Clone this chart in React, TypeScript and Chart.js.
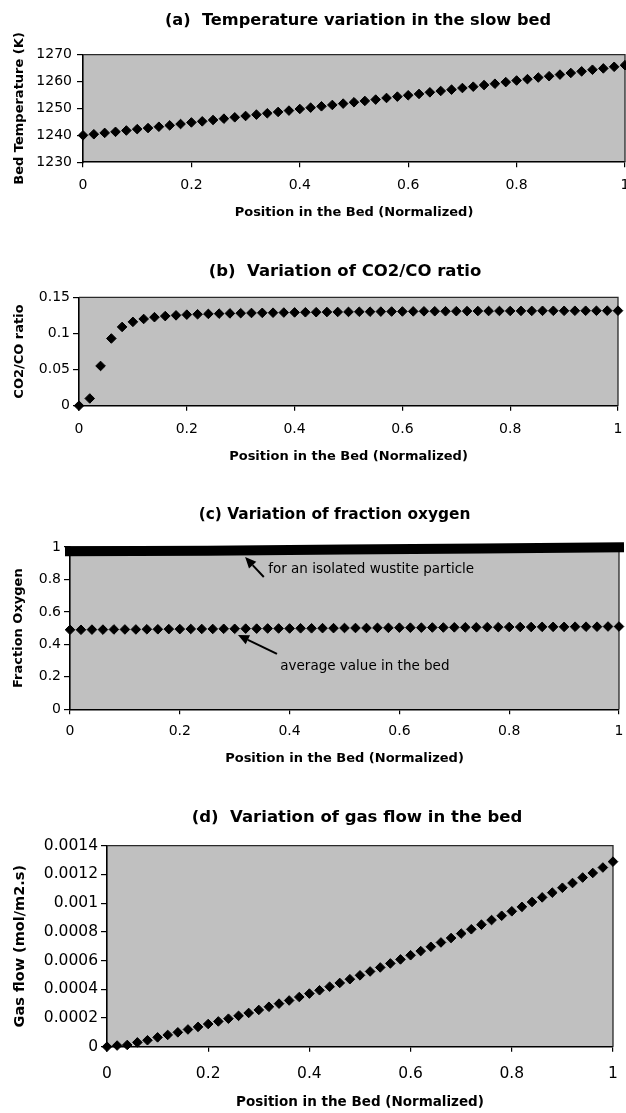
import React, { useEffect, useRef } from "react";
import { Chart, registerables } from "chart.js";

Chart.register(...registerables);

// ---------------- data ----------------
const POSITIONS = [
  0, 0.02, 0.04, 0.06, 0.08, 0.1, 0.12, 0.14, 0.16, 0.18,
  0.2, 0.22, 0.24, 0.26, 0.28, 0.3, 0.32, 0.34, 0.36, 0.38,
  0.4, 0.42, 0.44, 0.46, 0.48, 0.5, 0.52, 0.54, 0.56, 0.58,
  0.6, 0.62, 0.64, 0.66, 0.68, 0.7, 0.72, 0.74, 0.76, 0.78,
  0.8, 0.82, 0.84, 0.86, 0.88, 0.9, 0.92, 0.94, 0.96, 0.98, 1,
];

const BED_TEMPERATURE = [
  1240.0, 1240.4, 1240.9, 1241.3, 1241.8, 1242.3, 1242.7, 1243.2, 1243.7, 1244.2,
  1244.8, 1245.2, 1245.7, 1246.2, 1246.7, 1247.2, 1247.7, 1248.2, 1248.7, 1249.2,
  1249.8, 1250.3, 1250.8, 1251.3, 1251.8, 1252.3, 1252.8, 1253.3, 1253.9, 1254.4,
  1254.9, 1255.4, 1256.0, 1256.5, 1257.0, 1257.6, 1258.1, 1258.7, 1259.2, 1259.8,
  1260.4, 1260.9, 1261.5, 1262.0, 1262.6, 1263.2, 1263.8, 1264.4, 1264.9, 1265.5, 1266.1,
];

const CO2_CO_RATIO = [
  0, 0.01, 0.055, 0.093, 0.109, 0.116, 0.12, 0.1225, 0.124, 0.125,
  0.126, 0.1265, 0.127, 0.1274, 0.1277, 0.128, 0.1283, 0.1285, 0.1287, 0.1289,
  0.1291, 0.1293, 0.1294, 0.1296, 0.1297, 0.1298, 0.13, 0.1301, 0.1302, 0.1303,
  0.1304, 0.1305, 0.1306, 0.1307, 0.1307, 0.1308, 0.1309, 0.131, 0.131, 0.1311,
  0.1311, 0.1312, 0.1312, 0.1313, 0.1313, 0.1313, 0.1314, 0.1314, 0.1314, 0.1315, 0.1315,
];

const OXYGEN_BED_AVERAGE = [
  0.49, 0.49, 0.491, 0.491, 0.492, 0.492, 0.492, 0.493, 0.493, 0.494,
  0.494, 0.495, 0.495, 0.495, 0.496, 0.496, 0.497, 0.497, 0.498, 0.498,
  0.498, 0.499, 0.499, 0.5, 0.5, 0.501, 0.501, 0.501, 0.502, 0.502,
  0.503, 0.503, 0.503, 0.504, 0.504, 0.505, 0.505, 0.505, 0.506, 0.506,
  0.507, 0.507, 0.507, 0.508, 0.508, 0.508, 0.509, 0.509, 0.509, 0.51, 0.51,
];

const OXYGEN_PARTICLE_POSITIONS = [0, 0.25, 0.5, 0.75, 1];
const OXYGEN_ISOLATED_PARTICLE = [0.974, 0.977, 0.984, 0.991, 0.998];

const GAS_FLOW = [
  0, 0.000008, 0.000012, 0.00003, 0.000045, 0.000065, 0.000082, 0.0001, 0.00012, 0.000138,
  0.000158, 0.000176, 0.000195, 0.000215, 0.000235, 0.000256, 0.000278, 0.0003, 0.000322, 0.000346,
  0.00037, 0.000393, 0.000418, 0.000444, 0.00047, 0.000497, 0.000524, 0.000552, 0.00058, 0.000608,
  0.000637, 0.000666, 0.000696, 0.000726, 0.000757, 0.000788, 0.000818, 0.00085, 0.000882, 0.000912,
  0.000943, 0.000974, 0.001008, 0.00104, 0.001073, 0.001107, 0.00114, 0.001178, 0.00121, 0.001248, 0.001289,
];

const X_TICKS = [0, 0.2, 0.4, 0.6, 0.8, 1];
const X_TICK_LABELS = ["0", "0.2", "0.4", "0.6", "0.8", "1"];

const TEMP_TICKS = [1230, 1240, 1250, 1260, 1270];
const TEMP_TICK_LABELS = ["1230", "1240", "1250", "1260", "1270"];

const RATIO_TICKS = [0, 0.05, 0.1, 0.15];
const RATIO_TICK_LABELS = ["0", "0.05", "0.1", "0.15"];

const OXYGEN_TICKS = [0, 0.2, 0.4, 0.6, 0.8, 1];
const OXYGEN_TICK_LABELS = ["0", "0.2", "0.4", "0.6", "0.8", "1"];

const FLOW_TICKS = [0, 0.0002, 0.0004, 0.0006, 0.0008, 0.001, 0.0012, 0.0014];
const FLOW_TICK_LABELS = ["0", "0.0002", "0.0004", "0.0006", "0.0008", "0.001", "0.0012", "0.0014"];

const X_TITLE = "Position in the Bed (Normalized)";

// ---------------- styling / layout ----------------
const FONT = "'DejaVu Sans', sans-serif";
const PAGE_W = 626;
const X_TICK_LEN = 5;
const Y_TICK_LEN = 6;

type Series = { x: number[]; y: number[]; line?: boolean };
type Note = { text: string; tx: number; ty: number; fromX: number; fromY: number; toX: number; toY: number };

interface PanelSpec {
  top: number;
  height: number;
  title: string;
  titleX: number;
  titleY: number;
  titleSize: number;
  plotLeft: number;
  plotRight: number;
  plotTop: number;
  plotBottom: number;
  xLabelY: number;
  xTitleY: number;
  xTitleSize: number;
  yTitle: string;
  yTitleX: number;
  yTitleSize: number;
  yPad: number;
  yMin: number;
  yMax: number;
  yTicks: number[];
  yTickLabels: string[];
  tickSize: number;
  series: Series[];
  notes?: Note[];
}

const PANELS: PanelSpec[] = [
  {
    top: 0, height: 240, title: "(a)  Temperature variation in the slow bed", titleX: 358, titleY: 20.5, titleSize: 16.2,
    plotLeft: 83, plotRight: 625, plotTop: 54.7, plotBottom: 162.2,
    xLabelY: 185, xTitleY: 213, xTitleSize: 13, yTitle: "Bed Temperature (K)", yTitleX: 19.5, yTitleSize: 13, yPad: 5,
    yMin: 1230, yMax: 1270, yTicks: TEMP_TICKS, yTickLabels: TEMP_TICK_LABELS, tickSize: 14,
    series: [{ x: POSITIONS, y: BED_TEMPERATURE }],
  },
  {
    top: 240, height: 250, title: "(b)  Variation of CO2/CO ratio", titleX: 345, titleY: 31.3, titleSize: 16.5,
    plotLeft: 79, plotRight: 618, plotTop: 57.3, plotBottom: 165.7,
    xLabelY: 189, xTitleY: 216.7, xTitleSize: 13, yTitle: "CO2/CO ratio", yTitleX: 19.3, yTitleSize: 13, yPad: 3,
    yMin: 0, yMax: 0.15, yTicks: RATIO_TICKS, yTickLabels: RATIO_TICK_LABELS, tickSize: 14,
    series: [{ x: POSITIONS, y: CO2_CO_RATIO }],
  },
  {
    top: 490, height: 300, title: "(c) Variation of fraction oxygen", titleX: 334.5, titleY: 24.5, titleSize: 15.4,
    plotLeft: 70, plotRight: 619, plotTop: 57, plotBottom: 219.3,
    xLabelY: 241.7, xTitleY: 269, xTitleSize: 13, yTitle: "Fraction Oxygen", yTitleX: 19, yTitleSize: 13, yPad: 3,
    yMin: 0, yMax: 1, yTicks: OXYGEN_TICKS, yTickLabels: OXYGEN_TICK_LABELS, tickSize: 14,
    series: [
      { x: OXYGEN_PARTICLE_POSITIONS, y: OXYGEN_ISOLATED_PARTICLE, line: true },
      { x: POSITIONS, y: OXYGEN_BED_AVERAGE },
    ],
    notes: [
      { text: "for an isolated wustite particle", tx: 0.361, ty: 0.864, fromX: 0.353, fromY: 0.815, toX: 0.319, toY: 0.938 },
      { text: "average value in the bed", tx: 0.383, ty: 0.261, fromX: 0.377, fromY: 0.341, toX: 0.306, toY: 0.458 },
    ],
  },
  {
    top: 790, height: 323, title: "(d)  Variation of gas flow in the bed", titleX: 357, titleY: 28, titleSize: 16.5,
    plotLeft: 107, plotRight: 613, plotTop: 55.7, plotBottom: 256.7,
    xLabelY: 284, xTitleY: 312, xTitleSize: 13.5, yTitle: "Gas flow (mol/m2.s)", yTitleX: 20.7, yTitleSize: 14.5, yPad: 3,
    yMin: 0, yMax: 0.0014, yTicks: FLOW_TICKS, yTickLabels: FLOW_TICK_LABELS, tickSize: 15.5,
    series: [{ x: POSITIONS, y: GAS_FLOW }],
  },
];

const plotFrame = {
  id: "plotFrame",
  beforeDraw(chart: any) {
    const { ctx, chartArea: a } = chart;
    ctx.save();
    ctx.fillStyle = "#c0c0c0";
    ctx.fillRect(a.left, a.top, a.right - a.left, a.bottom - a.top);
    ctx.restore();
  },
  beforeDatasetsDraw(chart: any) {
    const { ctx, chartArea: a } = chart;
    ctx.save();
    ctx.strokeStyle = "#2a2a2a";
    ctx.lineWidth = 1.3;
    ctx.beginPath();
    ctx.moveTo(a.left, a.top);
    ctx.lineTo(a.right, a.top);
    ctx.lineTo(a.right, a.bottom);
    ctx.stroke();
    ctx.restore();
  },
};

function makeTitlePlugin(s: PanelSpec) {
  return {
    id: "panelTitle",
    afterDraw(chart: any) {
      const { ctx } = chart;
      ctx.save();
      ctx.fillStyle = "#000";
      ctx.font = `bold ${s.titleSize}px ${FONT}`;
      ctx.textAlign = "center";
      ctx.textBaseline = "middle";
      ctx.fillText(s.title, s.titleX, s.titleY);
      ctx.restore();
    },
  };
}

function makeNotesPlugin(notes: Note[]) {
  return {
    id: "notes",
    afterDatasetsDraw(chart: any) {
      const { ctx } = chart;
      const xs = chart.scales.x;
      const ys = chart.scales.y;
      ctx.save();
      ctx.fillStyle = "#000";
      ctx.strokeStyle = "#000";
      ctx.font = `13.5px ${FONT}`;
      ctx.textAlign = "left";
      ctx.textBaseline = "middle";
      for (const n of notes) {
        ctx.fillText(n.text, xs.getPixelForValue(n.tx), ys.getPixelForValue(n.ty));
        const x1 = xs.getPixelForValue(n.fromX);
        const y1 = ys.getPixelForValue(n.fromY);
        const x2 = xs.getPixelForValue(n.toX);
        const y2 = ys.getPixelForValue(n.toY);
        const ang = Math.atan2(y2 - y1, x2 - x1);
        const headLen = 11;
        const headHalf = 5;
        const bx = x2 - headLen * Math.cos(ang);
        const by = y2 - headLen * Math.sin(ang);
        ctx.lineWidth = 2;
        ctx.beginPath();
        ctx.moveTo(x1, y1);
        ctx.lineTo(bx, by);
        ctx.stroke();
        ctx.beginPath();
        ctx.moveTo(x2, y2);
        ctx.lineTo(bx + headHalf * Math.sin(ang), by - headHalf * Math.cos(ang));
        ctx.lineTo(bx - headHalf * Math.sin(ang), by + headHalf * Math.cos(ang));
        ctx.closePath();
        ctx.fill();
      }
      ctx.restore();
    },
  };
}

function Panel({ spec }: { spec: PanelSpec }) {
  const ref = useRef<HTMLCanvasElement | null>(null);

  useEffect(() => {
    if (!ref.current) return;
    const s = spec;
    const tickLH = s.tickSize * 1.2;
    const datasets = s.series.map((ser) => {
      const data = ser.x.map((x, i) => ({ x, y: ser.y[i] }));
      if (ser.line) {
        return {
          data,
          showLine: true,
          borderColor: "#000",
          borderWidth: 10,
          borderCapStyle: "square",
          pointRadius: 0,
          tension: 0,
          clip: false,
        };
      }
      return {
        data,
        showLine: false,
        pointStyle: "rectRot",
        pointRadius: 4.8,
        pointBackgroundColor: "#000",
        pointBorderColor: "#000",
        pointBorderWidth: 1,
        clip: false,
      };
    });

    const plugins: any[] = [plotFrame, makeTitlePlugin(s)];
    if (s.notes) plugins.push(makeNotesPlugin(s.notes));

    const chart = new Chart(ref.current, {
      type: "scatter",
      data: { datasets: datasets as any },
      plugins,
      options: {
        responsive: false,
        animation: false,
        events: [],
        layout: { autoPadding: false, padding: { top: s.plotTop, left: 0, right: PAGE_W - s.plotRight, bottom: 0 } },
        plugins: {
          legend: { display: false },
          tooltip: { enabled: false },
          title: { display: false },
        },
        scales: {
          x: {
            type: "linear",
            min: 0,
            max: 1,
            afterBuildTicks: (sc: any) => {
              sc.ticks = X_TICKS.map((v) => ({ value: v }));
            },
            afterFit: (sc: any) => {
              sc.height = s.height - s.plotBottom;
              sc.paddingLeft = 0;
              sc.paddingRight = 0;
            },
            ticks: {
              autoSkip: false,
              maxRotation: 0,
              color: "#000",
              font: { family: FONT, size: s.tickSize, lineHeight: 1.2 },
              padding: s.xLabelY - s.plotBottom - X_TICK_LEN - tickLH / 2,
              callback: (v: any) => X_TICK_LABELS[X_TICKS.indexOf(Number(v))] ?? "",
            },
            grid: { display: true, drawOnChartArea: false, drawTicks: true, tickLength: X_TICK_LEN, color: "#000", lineWidth: 1.2 },
            border: { display: true, color: "#000", width: 1.6 },
            title: {
              display: true,
              text: X_TITLE,
              color: "#000",
              font: { family: FONT, size: s.xTitleSize, weight: "bold", lineHeight: 1.2 },
              padding: { top: 0, bottom: s.height - s.xTitleY - (s.xTitleSize * 1.2) / 2 },
            },
          },
          y: {
            type: "linear",
            min: s.yMin,
            max: s.yMax,
            afterBuildTicks: (sc: any) => {
              sc.ticks = s.yTicks.map((v) => ({ value: v }));
            },
            afterFit: (sc: any) => {
              sc.width = s.plotLeft;
              sc.paddingTop = 0;
              sc.paddingBottom = 0;
            },
            ticks: {
              autoSkip: false,
              color: "#000",
              font: { family: FONT, size: s.tickSize, lineHeight: 1.2 },
              padding: s.yPad,
              callback: (v: any) => {
                const i = s.yTicks.findIndex((t) => Math.abs(t - Number(v)) < 1e-9);
                return i >= 0 ? s.yTickLabels[i] : "";
              },
            },
            grid: { display: true, drawOnChartArea: false, drawTicks: true, tickLength: Y_TICK_LEN, color: "#000", lineWidth: 1.2 },
            border: { display: true, color: "#000", width: 1.6 },
            title: {
              display: true,
              text: s.yTitle,
              color: "#000",
              font: { family: FONT, size: s.yTitleSize, weight: "bold", lineHeight: 1.2 },
              padding: { top: s.yTitleX - (s.yTitleSize * 1.2) / 2, bottom: 0 },
            },
          },
        },
      } as any,
    });
    return () => chart.destroy();
  }, [spec]);

  return (
    <canvas
      ref={ref}
      width={PAGE_W}
      height={spec.height}
      style={{ position: "absolute", left: 0, top: spec.top, width: PAGE_W, height: spec.height, display: "block" }}
    />
  );
}

export default function App() {
  return (
    <div style={{ position: "absolute", left: 0, top: 0, width: PAGE_W, height: 1113, background: "#fff", overflow: "hidden" }}>
      {PANELS.map((p, i) => (
        <Panel key={i} spec={p} />
      ))}
    </div>
  );
}
